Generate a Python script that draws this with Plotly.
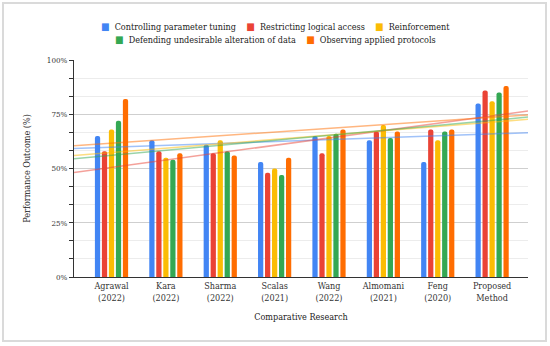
import numpy as np
import plotly.graph_objects as go

categories = ["Agrawal<br>(2022)", "Kara<br>(2022)", "Sharma<br>(2022)", "Scalas<br>(2021)",
              "Wang<br>(2022)", "Almomani<br>(2021)", "Feng<br>(2020)", "Proposed<br>Method"]
series_names = ["Controlling parameter tuning", "Restricting logical access", "Reinforcement",
                "Defending undesirable alteration of data", "Observing applied protocols"]
controlling = [65, 63, 61, 53, 65, 63, 53, 80]
restricting = [58, 58, 57, 48, 57, 67, 68, 86]
reinforcement = [68, 55, 63, 50, 65, 70, 63, 81]
defending = [72, 54, 58, 47, 66, 64, 67, 85]
observing = [82, 57, 56, 55, 68, 67, 68, 88]
y_ticks = [0, 25, 50, 75, 100]
y_tick_labels = ["0%", "25%", "50%", "75%", "100%"]

colors = ["#4285F4", "#EA4335", "#FBBC04", "#34A853", "#FF6D01"]
trend_colors = ["rgba(66,133,244,0.5)", "rgba(234,67,53,0.5)", "rgba(251,188,4,0.5)",
                "rgba(52,168,83,0.5)", "rgba(255,109,1,0.5)"]
all_series = [controlling, restricting, reinforcement, defending, observing]

FONT = "DejaVu Serif Condensed, DejaVu Serif"
x_idx = np.arange(len(categories))
x_range = [-0.69, 7.66]

L, R, T, B = 74, 22, 60, 69
PW, PH = 550 - L - R, 346 - T - B

fig = go.Figure()
for name, vals, c in zip(series_names, all_series, colors):
    fig.add_trace(go.Bar(x=x_idx, y=vals, name=name, marker=dict(color=c, line=dict(width=0)),
                         showlegend=False, marker_cornerradius=2))

for vals, tc in zip(all_series, trend_colors):
    slope, intercept = np.polyfit(x_idx, vals, 1)
    xs = np.array(x_range)
    fig.add_trace(go.Scatter(x=xs, y=slope * xs + intercept, mode="lines",
                             line=dict(color=tc, width=1.5), showlegend=False, hoverinfo="skip"))

NB = "\u00a0"
def entry(i):
    return f"<span style='color:{colors[i]};font-size:10px'>■</span>{NB*2}{series_names[i]}"
row1 = (NB * 4).join(entry(i) for i in range(3))
row2 = (NB * 4).join(entry(i) for i in range(3, 5))

annotations = [
    dict(text=row1, xref="paper", yref="paper", x=(275 - L) / PW, y=(346 - B - 26) / PH,
         xanchor="center", yanchor="middle", showarrow=False,
         font=dict(family=FONT, size=9, color="#222")),
    dict(text=row2, xref="paper", yref="paper", x=(275 - L) / PW, y=(346 - B - 39) / PH,
         xanchor="center", yanchor="middle", showarrow=False,
         font=dict(family=FONT, size=9, color="#222")),
]

fig.update_layout(
    width=550, height=346,
    margin=dict(l=L, r=R, t=T, b=B),
    paper_bgcolor="white", plot_bgcolor="white",
    barmode="group", bargap=0.357, bargroupgap=0.25,
    font=dict(family=FONT, size=9, color="#222"),
    showlegend=False,
    annotations=annotations,
    xaxis=dict(range=x_range, tickmode="array", tickvals=x_idx, ticktext=categories,
               showgrid=False, showline=True, linecolor="#333", linewidth=1, ticks="",
               tickfont=dict(family=FONT, size=9, color="#333"), zeroline=False,
               title=dict(text="Comparative Research", font=dict(family=FONT, size=9, color="#222"),
                          standoff=12)),
    yaxis=dict(range=[0, 100], tickmode="array", tickvals=y_ticks, ticktext=y_tick_labels,
               showgrid=True, gridcolor="#cfcfcf", gridwidth=1,
               showline=True, linecolor="#333", linewidth=1, ticks="outside", ticklen=4,
               tickcolor="#333", zeroline=False,
               tickfont=dict(family=FONT, size=8, color="#333"),
               minor=dict(dtick=25 / 3, tick0=0, showgrid=True, gridcolor="#ececec",
                          ticks="outside", ticklen=4, tickcolor="#333"),
               title=dict(text="Performance Outcome (%)", font=dict(family=FONT, size=9, color="#222"),
                          standoff=14)),
    shapes=[dict(type="rect", xref="paper", yref="paper",
                 x0=(3 - L) / PW, x1=(546 - L) / PW,
                 y0=(346 - B - 341) / PH, y1=(346 - B - 3) / PH,
                 line=dict(color="#dadada", width=2), fillcolor="rgba(0,0,0,0)", layer="below")],
)

fig.write_html("out.html", config={"displayModeBar": False},
               post_script="document.body.style.margin='0';document.body.style.overflow='hidden';")
